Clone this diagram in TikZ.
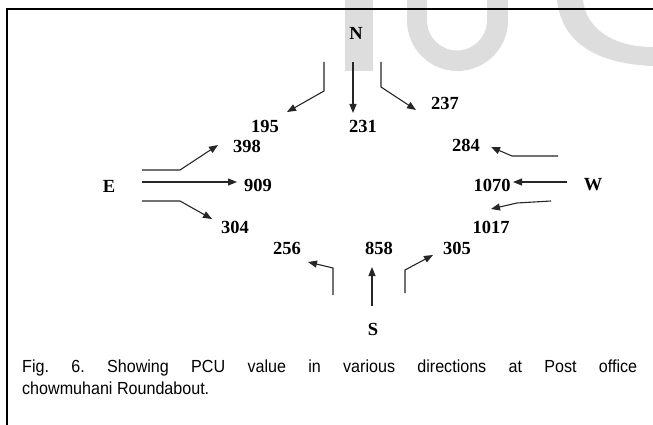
\documentclass[tikz,border=0pt]{standalone}
\usepackage{fontspec}
\setmainfont{Liberation Serif}
\newfontfamily\capfont[FakeStretch = 0.92]{Liberation Sans}
\usetikzlibrary{arrows.meta}

\definecolor{wmgray}{RGB}{221,221,221}

\begin{document}
\begin{tikzpicture}[x = 1pt, y = -1pt,
    lab/.style = {font = \fontsize{18.5}{20}\selectfont\bfseries, inner sep = 0pt},
    flow/.style = {draw = black!85, line width = 1.1pt, -{Triangle[length = 9pt, width = 7pt]}}]
    \useasboundingbox (0,0) rectangle (653,425);
    % watermark in the background
    \fill[wmgray] (345,0) rectangle (373,71);
    \fill[wmgray] (407,0) -- (407,20.5) arc[start angle = 180, end angle = 0, radius = 50.5]
        -- (508,0) -- (487,0) -- (487,20.5) arc[start angle = 0, end angle = 180, radius = 30]
        -- (427,0) -- cycle;
    \fill[wmgray] (557,0) .. controls (562,45) and (600,64) .. (653,66)
        -- (653,47) .. controls (612,47) and (586,28) .. (583,0) -- cycle;
    % frame
    \draw[line width = 2pt] (6.5,425) -- (6.5,9) -- (653,9);
    % directions
    \node[lab] (N) at (356,33) {N};
    \node[lab] (E) at (109,186) {E};
    \node[lab] (W) at (593,185) {W};
    \node[lab] (S) at (373,329) {S};
    % volumes
    \node[lab] (N195) at (265,126) {195};
    \node[lab] (N231) at (363,126) {231};
    \node[lab] (N237) at (445,103) {237};
    \node[lab] (E398) at (247,146) {398};
    \node[lab] (E909) at (258,185) {909};
    \node[lab] (E304) at (235,227) {304};
    \node[lab] (W284) at (466,145) {284};
    \node[lab] (W1070) at (492,185) {1070};
    \node[lab] (W1017) at (491,227) {1017};
    \node[lab] (S256) at (287,248) {256};
    \node[lab] (S858) at (379,248) {858};
    \node[lab] (S305) at (457,248) {305};
    % from the north
    \coordinate (NL) at (324,62); \coordinate (NLb) at (324,91); \coordinate (NLt) at (287,112);
    \coordinate (NM) at (353,62); \coordinate (NMt) at (353,113);
    \coordinate (NR) at (381,62); \coordinate (NRb) at (381,87); \coordinate (NRt) at (416,110);
    \draw[flow] (NL) -- (NLb) -- (NLt);
    \draw[flow] (NM) -- (NMt);
    \draw[flow] (NR) -- (NRb) -- (NRt);
    % from the east
    \coordinate (EL) at (142,170); \coordinate (ELb) at (180,170); \coordinate (ELt) at (218,145);
    \coordinate (EM) at (142,182); \coordinate (EMt) at (237,182);
    \coordinate (ER) at (142,201); \coordinate (ERb) at (180,201); \coordinate (ERt) at (212,219);
    \draw[flow] (EL) -- (ELb) -- (ELt);
    \draw[flow] (EM) -- (EMt);
    \draw[flow] (ER) -- (ERb) -- (ERt);
    % from the west
    \coordinate (WL) at (558,156); \coordinate (WLb) at (512,156); \coordinate (WLt) at (491,147);
    \coordinate (WM) at (567,182); \coordinate (WMt) at (513,182);
    \coordinate (WR) at (551,201); \coordinate (WRb) at (517,203); \coordinate (WRt) at (491,209);
    \draw[flow] (WL) -- (WLb) -- (WLt);
    \draw[flow] (WM) -- (WMt);
    \draw[flow] (WR) -- (WRb) -- (WRt);
    % from the south
    \coordinate (SL) at (333,295); \coordinate (SLb) at (333,268); \coordinate (SLt) at (308,262);
    \coordinate (SM) at (372,306); \coordinate (SMt) at (372,267);
    \coordinate (SR) at (405,293); \coordinate (SRb) at (405,270); \coordinate (SRt) at (433,255);
    \draw[flow] (SL) -- (SLb) -- (SLt);
    \draw[flow] (SM) -- (SMt);
    \draw[flow] (SR) -- (SRb) -- (SRt);
    % caption
    \node[font = \capfont\fontsize{17.5}{22}\selectfont\frenchspacing, text width = 615pt,
        align = justify, inner sep = 0pt, anchor = base west] (cap) at (22,372)
        {Fig. 6. Showing PCU value in various directions at Post office\linebreak
         chowmuhani Roundabout.};
\end{tikzpicture}
\end{document}
